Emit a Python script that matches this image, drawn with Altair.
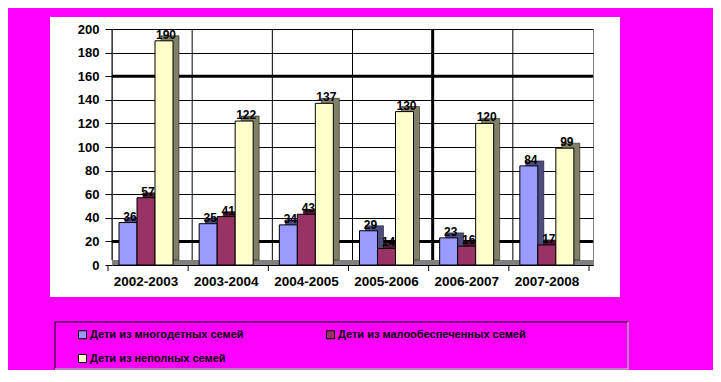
import altair as alt
import pandas as pd

cats = ["2002-2003", "2003-2004", "2004-2005", "2005-2006", "2006-2007", "2007-2008"]
series = ["Дети из многодетных семей", "Дети из малообеспеченных семей", "Дети из неполных семей"]
mnogodet = [36, 35, 34, 29, 23, 84]
maloobesp = [57, 41, 43, 14, 16, 17]
nepoln = [190, 122, 137, 130, 120, 99]
front_colors = ["#9999FF", "#993366", "#FFFFCC"]
side_colors = ["#4D4D80", "#4D1A33", "#808066"]
y_ticks = [0, 20, 40, 60, 80, 100, 120, 140, 160, 180, 200]
thick_h = [20, 160]
thick_v = ["2006-2007"]

rows = []
for si, (name, vals) in enumerate(zip(series, [mnogodet, maloobesp, nepoln])):
    for c, v in zip(cats, vals):
        rows.append({"cat": c, "series": name, "value": v, "side": side_colors[si]})
df = pd.DataFrame(rows)
dcat = pd.DataFrame({"cat": cats})

W, H = 481, 236
FONT = "Liberation Sans"
MAG = "#FF00FF"
one = pd.DataFrame({"a": [0]})

xscale = alt.Scale(paddingInner=0, paddingOuter=0)
yscale = alt.Scale(domain=[0, 200])

xaxis = alt.Axis(labelAngle=0, labelFont=FONT, labelFontSize=13.5, labelFontWeight="bold",
                 labelColor="black", grid=False, domain=False, ticks=False,
                 labelPadding=9, labelOffset=-6, title=None)
yaxis = alt.Axis(values=y_ticks, labelFont=FONT, labelFontSize=13, labelFontWeight="bold",
                 labelColor="black", grid=True, gridColor="black", gridWidth=1, labelOverlap=False,
                 domainColor="#808080", tickColor="black", tickSize=7, labelPadding=6, title=None)


def X(**kw):
    return alt.X("cat:N", sort=cats, scale=xscale, axis=xaxis, title=None, **kw)


def Y(field="value:Q"):
    return alt.Y(field, scale=yscale, axis=yaxis, title=None)


def xoff(lo, hi):
    return alt.XOffset("series:N", sort=series, scale=alt.Scale(range=[lo, hi], paddingInner=0, paddingOuter=0))


def frame(x0, x1, y0, y1):
    return alt.Chart(one).mark_rect(fill=MAG, stroke=None).encode(
        x=alt.value(x0), x2=alt.value(x1), y=alt.value(y0), y2=alt.value(y1))


frames = [frame(-200, 800, -100, -12), frame(-200, 800, 268, 500),
          frame(-200, -62, -12, 268), frame(508, 800, -12, 268)]

legbox = alt.Chart(one).mark_rect(fill=None, stroke="black", strokeWidth=1).encode(
    x=alt.value(-57), x2=alt.value(516), y=alt.value(293), y2=alt.value(340))
legb1 = alt.Chart(one).mark_rule(color="white", strokeWidth=1).encode(
    x=alt.value(-57), x2=alt.value(516), y=alt.value(340))
legb2 = alt.Chart(one).mark_rule(color="white", strokeWidth=1).encode(
    x=alt.value(516), y=alt.value(293), y2=alt.value(340))

vgrid = alt.Chart(dcat).mark_rule(color="black", strokeWidth=1).encode(
    x=X(bandPosition=0), y=alt.value(0), y2=alt.value(H - 5))
vticks = alt.Chart(dcat).mark_rule(color="black", strokeWidth=1, xOffset=-4).encode(
    x=X(bandPosition=0), y=alt.value(H + 1), y2=alt.value(H + 6))
vtick_end = alt.Chart(pd.DataFrame({"cat": [cats[-1]]})).mark_rule(color="black", strokeWidth=1, xOffset=-4).encode(
    x=X(bandPosition=1), y=alt.value(H + 1), y2=alt.value(H + 6))

floor = alt.Chart(pd.DataFrame({"v": [0]})).mark_rule(color="#808080", strokeWidth=5, yOffset=-2.5).encode(
    y=Y("v:Q"))
thickh = alt.Chart(pd.DataFrame({"v": thick_h})).mark_rule(color="black", strokeWidth=3).encode(
    y=Y("v:Q"))
thickv = alt.Chart(pd.DataFrame({"cat": thick_v})).mark_rule(color="black", strokeWidth=3).encode(
    x=X(bandPosition=0))

shadow = alt.Chart(df).mark_bar(stroke="black", strokeWidth=0.5, yOffset=-5, y2Offset=-5).encode(
    x=X(), y=Y(), xOffset=xoff(13, 67),
    color=alt.Color("side:N", scale=None))
front = alt.Chart(df).mark_bar(stroke="black", strokeWidth=1).encode(
    x=X(), y=Y(), xOffset=xoff(7, 61),
    color=alt.Color("series:N", sort=series,
                    scale=alt.Scale(domain=series, range=front_colors),
                    legend=alt.Legend(title=None, orient="none", legendX=-35, legendY=300,
                                      direction="horizontal", columns=2, columnPadding=80, rowPadding=11,
                                      symbolType="square", symbolSize=64, symbolStrokeColor="black",
                                      symbolStrokeWidth=1, labelFont=FONT, labelFontSize=11,
                                      labelFontWeight="bold", labelColor="black", labelOffset=2,
                                      labelLimit=400, padding=0)))
labels = alt.Chart(df).mark_text(font=FONT, fontSize=12, fontWeight="bold", color="black", dy=-6, dx=2).encode(
    x=X(), y=Y(), xOffset=xoff(7, 61), text="value:Q")

front_group = alt.layer(front, labels)

chart = alt.layer(*frames, legbox, legb1, legb2, vgrid, vticks, vtick_end, thickv, thickh, floor,
                  shadow, front_group).resolve_scale(
    xOffset="independent"
).properties(
    width=W, height=H,
    autosize=alt.AutoSizeParams(type="none"),
    padding={"left": 104, "top": 21, "right": 120, "bottom": 105},
    background="white",
).configure_view(stroke="#808080", strokeWidth=1)

chart.save("out.html", embed_options={"renderer": "svg", "actions": False})
